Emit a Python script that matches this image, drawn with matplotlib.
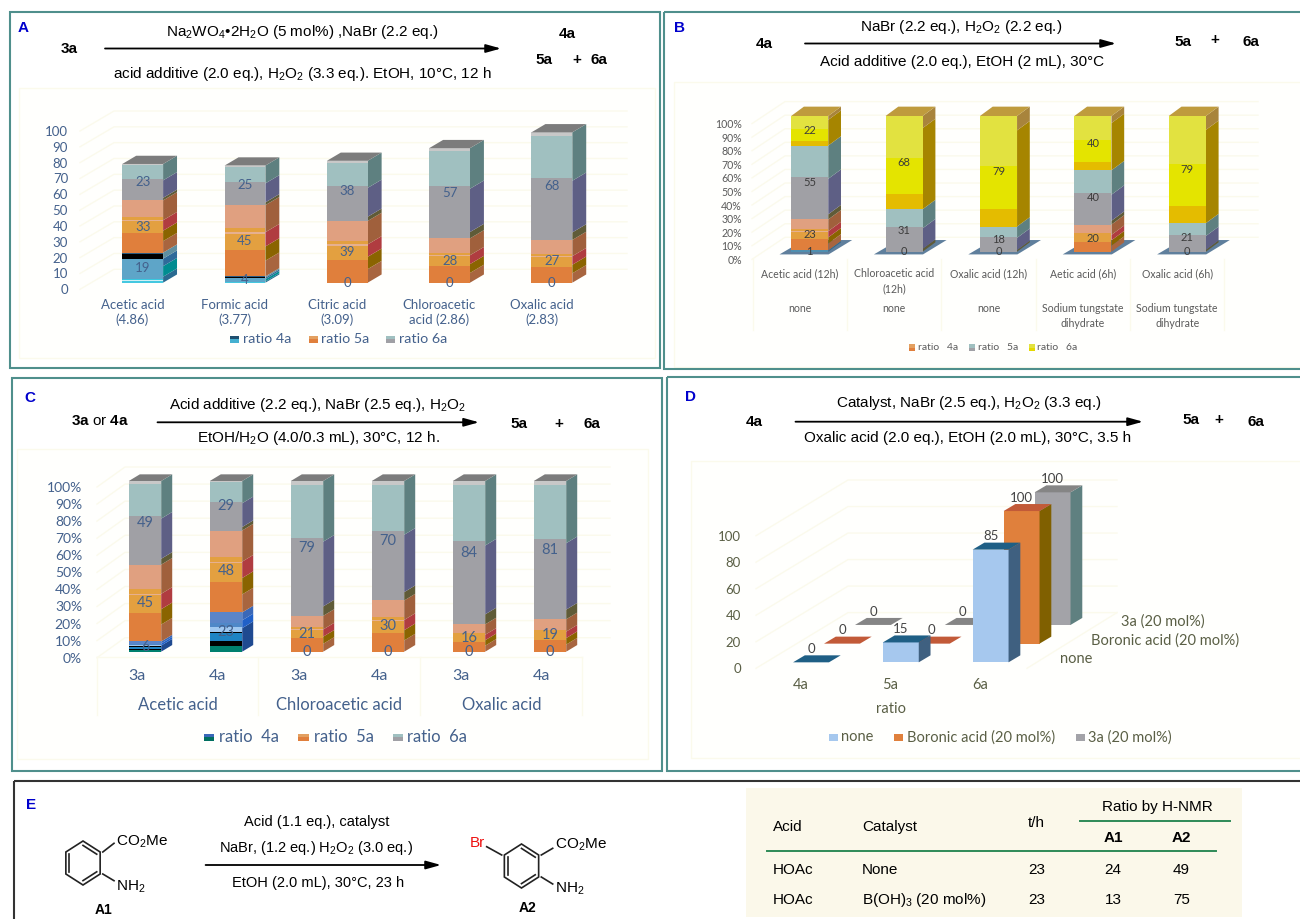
import matplotlib
matplotlib.use("Agg")
import matplotlib.pyplot as plt
from matplotlib.patches import Rectangle
import numpy as np

plt.rcParams['font.family'] = ['Lato', 'DejaVu Sans']
plt.rcParams['mathtext.fontset'] = 'custom'
plt.rcParams['mathtext.rm'] = 'Liberation Sans'
plt.rcParams['mathtext.bf'] = 'Liberation Sans:bold'
plt.rcParams['mathtext.default'] = 'rm'

W, H = 1300, 919

# === Panel A values ===
a_names = ["Acetic acid\n(4.86)", "Formic acid\n(3.77)", "Citric acid\n(3.09)",
           "Chloroacetic\nacid (2.86)", "Oxalic acid\n(2.83)"]
a_4a = [19, 4, 0, 0, 0]
a_5a = [33, 45, 39, 28, 27]
a_6a = [23, 25, 38, 57, 68]
a_ticks = [0, 10, 20, 30, 40, 50, 60, 70, 80, 90, 100]

# === Panel B values ===
b_names = ["Acetic acid (12h)", "Chloroacetic acid\n(12h)", "Oxalic acid (12h)",
           "Aetic acid (6h)", "Oxalic acid (6h)"]
b_catalyst = ["none", "none", "none", "Sodium tungstate\ndihydrate", "Sodium tungstate\ndihydrate"]
b_other = [1, 0, 0, 0, 0]
b_4a = [23, 0, 0, 20, 0]
b_5a = [55, 31, 18, 40, 21]
b_6a = [22, 68, 79, 40, 79]
pct_ticks = [0, 10, 20, 30, 40, 50, 60, 70, 80, 90, 100]

# === Panel C values ===
c_names = ["3a", "4a", "3a", "4a", "3a", "4a"]
c_groups = ["Acetic acid", "Chloroacetic acid", "Oxalic acid"]
c_4a = [6, 23, 0, 0, 0, 0]
c_5a = [45, 48, 21, 30, 16, 19]
c_6a = [49, 29, 79, 70, 84, 81]

# === Panel D values ===
d_names = ["4a", "5a", "6a"]
d_rows = ["none", "Boronic acid (20 mol%)", "3a (20 mol%)"]
d_none = [0, 15, 85]
d_boronic = [0, 0, 100]
d_3a = [0, 0, 100]
d_ticks = [0, 20, 40, 60, 80, 100]

# === Panel E table ===
e_acid = ["HOAc", "HOAc"]
e_catalyst = ["None", "B(OH)$_3$ (20 mol%)"]
e_time = [23, 23]
e_a1 = [24, 13]
e_a2 = [49, 75]

# === Colour bands of the glossy bars (fraction of the segment, colour) ===
FRONT_5A = [(0, .37, '#E07F3C'), (.37, .60, '#E3A040'), (.60, .62, '#E6B090'),
            (.62, .68, '#E3A040'), (.68, 1, '#E0A080')]
SIDE_5A = [(0, .22, '#A8653F'), (.22, .42, '#8A6400'), (.42, .62, '#B03C40'), (.62, 1, '#A0603C')]
FRONT_6A = [(0, .58, '#A0A0A5'), (.58, .97, '#A0C0C0'), (.97, 1, '#C8C8C8')]
SIDE_6A = [(0, .07, '#5F5B38'), (.07, .55, '#5E5F85'), (.55, 1, '#5E8080')]
FRONT_TEAL = [(0, .58, '#A0A0A5'), (.58, 1, '#A0C0C0')]
FRONT_YEL = [(0, .16, '#E4BC00'), (.16, .55, '#E4E400'), (.55, 1, '#E2E240')]
SIDE_YEL = [(0, .87, '#A68500'), (.87, 1, '#A8843C')]
FRONT_4A = [(0, .06, '#45C8E0'), (.06, .09, '#D0F0F5'), (.09, .13, '#38C8E0'),
            (.13, .8, '#5EA5C8'), (.8, .94, '#000000'), (.94, 1, '#2A5A80')]
SIDE_4A = [(0, .2, '#2A6A90'), (.2, .55, '#008C90'), (.55, .8, '#2F6A9A'), (.8, 1, '#5F8FA0')]
FRONT_C4A = [(0, .15, '#00806F'), (.15, .28, '#000000'), (.28, .47, '#1E84C4'), (.47, .51, '#000000'),
             (.51, .62, '#A0C8F0'), (.62, .72, '#4F88C8'), (.72, 1, '#5B85C8')]
SIDE_C4A = [(0, .6, '#1F4A90'), (.6, .8, '#2060C8'), (.8, 1, '#3A68B8')]
FRONT_OTHER = [(0, 1, '#4F8FB0')]
SIDE_OTHER = [(0, 1, '#2F6A90')]

BLUE_TXT = '#44618C'
TEAL = '#4F8F8C'
FAINT = '#FBFAEC'

fig = plt.figure(figsize=(13, 9.19), dpi=100)

# canvas in pixels for frames, schemes and legends
canvas = fig.add_axes([0, 0, 1, 1])
canvas.set_xlim(0, W)
canvas.set_ylim(H, 0)
canvas.axis('off')


def box(x0, y0, x1, y1, edge, face='none', lw=1.5):
    canvas.add_patch(Rectangle((x0, y0), x1 - x0, y1 - y0, fc=face, ec=edge, lw=lw))


def arial(x, y, s, size=11, ha='center', **kw):
    canvas.text(x, y, s, fontsize=size, ha=ha, va='center', family=['Liberation Sans', 'DejaVu Sans'], **kw)


def arrow(x0, x1, y, lw=1.3):
    canvas.annotate('', xy=(x1, y), xytext=(x0, y),
                    arrowprops=dict(arrowstyle='-|>,head_length=0.9,head_width=0.25', color='black', lw=lw,
                                    shrinkA=0, shrinkB=0))


def swatch(x0, x1, y, top, bottom):
    canvas.add_patch(Rectangle((x0, y - 3.5), x1 - x0, 3.5, fc=top, lw=0))
    canvas.add_patch(Rectangle((x0, y), x1 - x0, 3.5, fc=bottom, lw=0))


def chart_axes(x_left, x_right, y_top, y_bottom, x0, slot, y0, per_unit):
    # axes whose data scale gives bar slots along x and values along y
    ax = fig.add_axes([x_left / W, 1 - y_bottom / H, (x_right - x_left) / W, (y_bottom - y_top) / H])
    ax.set_xlim((x_left - x0) / slot, (x_right - x0) / slot)
    ax.set_ylim((y0 - y_bottom) / per_unit, (y0 - y_top) / per_unit)
    ax.patch.set_alpha(0)
    for s in ax.spines.values():
        s.set_visible(False)
    ax.tick_params(length=0)
    return ax


def walls(ax, ticks, shift, x_front, x_back, x_end, rise):
    for v in ticks:
        y = v + shift
        ax.plot([x_front, x_back, x_end], [y, y + rise, y + rise], color=FAINT, lw=1, zorder=0)


def segment(ax, x, bottom, h, width, dx, dy, front, side):
    for lo, hi, col in front:
        ax.bar(x, h * (hi - lo), bottom=bottom + h * lo, width=width, color=col, lw=0, zorder=3)
    r = x + width / 2
    for lo, hi, col in side:
        y0, y1 = bottom + h * lo, bottom + h * hi
        ax.fill([r, r + dx, r + dx, r], [y0, y0 + dy, y1 + dy, y1], color=col, lw=0, zorder=2)


def stacked(ax, series, width, dx, dy, top_col, label_col, fs, norm=False):
    # series: list of (values, front bands, side bands, show label)
    n = len(series[0][0])
    for i in range(n):
        total = sum(s[0][i] for s in series) if norm else 100
        bottom = 0
        for vals, front, side, show in series:
            h = vals[i] * 100 / total
            if h > 0:
                segment(ax, i, bottom, h, width, dx, dy, front, side)
            if show:
                ax.text(i, bottom + h / 2, str(vals[i]), ha='center', va='center',
                        color=label_col, fontsize=fs, zorder=5)
            bottom += h
        l, r = i - width / 2, i + width / 2
        ax.fill([l, r, r + dx, l + dx], [bottom, bottom, bottom + dy, bottom + dy],
                color=top_col, lw=0, zorder=3)


# === Panel frames ===
box(19, 88, 655, 358, FAINT, '#FFFFFD', 1)
box(674, 82, 1310, 367, FAINT, '#FFFFFD', 1)
box(17, 449, 648, 759, FAINT, '#FFFFFD', 1)
box(691, 461, 1310, 758, FAINT, '#FFFFFD', 1)
box(9.5, 12, 660, 368, TEAL)
box(664, 12, 1310, 369, TEAL)
box(11.5, 378, 662, 771, TEAL)
box(667, 377, 1310, 771, TEAL)
box(14, 781, 1310, 930, '#333333')

# === Panel A ===
ax = chart_axes(68, 655, 100, 296, 142.7, 102.3, 282.7, 1.583)
shift = -(289.3 - 282.7) / 1.583
walls(ax, a_ticks, shift, (80 - 142.7) / 102.3, (114 - 142.7) / 102.3, (627 - 142.7) / 102.3, 20 / 1.583)
stacked(ax, [(a_4a, FRONT_4A, SIDE_4A, True), (a_5a, FRONT_5A, SIDE_5A, True), (a_6a, FRONT_6A, SIDE_6A, True)],
        0.399, 0.136, 5.2, '#7C7C7C', BLUE_TXT, 9.5)
ax.set_yticks([v + shift for v in a_ticks], [str(v) for v in a_ticks], color=BLUE_TXT, fontsize=9.5)
ax.set_xticks([i - 0.1 for i in range(5)], a_names, color=BLUE_TXT, fontsize=9.5, linespacing=1.25)
ax.tick_params(axis='y', pad=0)
ax.tick_params(axis='x', pad=2)

arial(23, 28, 'A', 11, color='#0000CC', fontweight='bold')
arial(69.5, 49, '3a', 11, fontweight='bold')
arrow(105, 501, 48.5)
arial(302, 32, 'Na$_2$WO$_4$•2H$_2$O (5 mol%) ,NaBr (2.2 eq.)')
arial(302, 74, 'acid additive (2.0 eq.), H$_2$O$_2$ (3.3 eq.). EtOH, 10°C, 12 h')
arial(567, 34, '4a', 11, fontweight='bold')
arial(544, 60, '5a', 11, fontweight='bold')
arial(577, 60, '+', 11, fontweight='bold')
arial(598.5, 60, '6a', 11, fontweight='bold')
for xs, xt, label, top, bottom in [(230, 243, 'ratio 4a', '#1F4F6F', '#45B0D0'),
                                   (308.5, 321, 'ratio 5a', '#E3A060', '#E07F3C'),
                                   (386, 398.6, 'ratio 6a', '#A0C0C0', '#A0A0A5')]:
    swatch(xs, xs + 9, 339, top, bottom)
    canvas.text(xt, 339, label, color=BLUE_TXT, fontsize=10.3, va='center')

# === Panel B ===
ax = chart_axes(742, 1300, 95, 262, 809.7, 94.4, 251.7, 1.357)
shift = -(259.3 - 251.7) / 1.357
walls(ax, pct_ticks, shift, (752 - 809.7) / 94.4, (785 - 809.7) / 94.4, (1258 - 809.7) / 94.4, 22 / 1.357)
for i in range(5):
    ax.fill([i - 0.32, i + 0.2, i + 0.45, i - 0.06], [-2, -2, 8.6, 8.6], color='#5F7F9C', lw=0, zorder=1)
stacked(ax, [(b_other, FRONT_OTHER, SIDE_OTHER, False), (b_4a, FRONT_5A, SIDE_5A, True),
             (b_5a, FRONT_TEAL, SIDE_6A, True), (b_6a, FRONT_YEL, SIDE_YEL, True)],
        0.393, 0.135, 6.9, '#BF9B3D', '#3C3C3C', 8, norm=True)
ax.text(0, 0.5, str(b_other[0]), ha='center', va='center', color='#3C3C3C', fontsize=8, zorder=5)
ax.set_yticks([v + shift for v in pct_ticks], [f'{v}%' for v in pct_ticks], color='#5A5A5A', fontsize=7.6)
ax.tick_params(axis='y', pad=0)
ax.set_xticks([])
for i in range(5):
    xc = i - 0.107
    ax.text(xc, (251.7 - 268) / 1.357, b_names[i], ha='center', va='top', color='#5A5A5A', fontsize=7.6,
            linespacing=1.45, clip_on=False)
    ax.text(xc, (251.7 - 303) / 1.357, b_catalyst[i], ha='center', va='top', color='#5A5A5A', fontsize=7.6,
            linespacing=1.45, clip_on=False)
for x in [753, 847, 941, 1036, 1130, 1224]:
    canvas.plot([x, x], [259, 330], color=FAINT, lw=1)

arial(679.5, 27.5, 'B', 11, color='#0000CC', fontweight='bold')
arial(764, 43.5, '4a', 11, fontweight='bold')
arrow(805, 1116, 43.5)
arial(961, 26.7, 'NaBr (2.2 eq.), H$_2$O$_2$ (2.2 eq.)')
arial(962, 62, 'Acid additive (2.0 eq.), EtOH (2 mL), 30°C')
arial(1183, 41.7, '5a', 11, fontweight='bold')
arial(1214.7, 40, '+', 11, fontweight='bold')
arial(1250.6, 41.7, '6a', 11, fontweight='bold')
for xs, xt, label, top, bottom in [(909, 917.6, 'ratio   4a', '#E3A060', '#E07F3C'),
                                   (969, 977.6, 'ratio   5a', '#A0C0C0', '#A0A0A5'),
                                   (1028.6, 1036.7, 'ratio   6a', '#E2E240', '#E4D800')]:
    swatch(xs, xs + 6, 347.7, top, bottom)
    canvas.text(xt, 347.7, label, color='#5A5A5A', fontsize=7.5, va='center')

# === Panel C ===
ax = chart_axes(82, 648, 460, 668, 145, 81, 651.7, 1.707)
shift = -(657.7 - 651.7) / 1.707
walls(ax, pct_ticks, shift, (97 - 145) / 81, (125 - 145) / 81, (610 - 145) / 81, 20 / 1.707)
stacked(ax, [(c_4a, FRONT_C4A, SIDE_C4A, True), (c_5a, FRONT_5A, SIDE_5A, True), (c_6a, FRONT_6A, SIDE_6A, True)],
        0.4, 0.136, 3.9, '#7C7C7C', BLUE_TXT, 10.5)
ax.set_yticks([v + shift for v in pct_ticks], [f'{v}%' for v in pct_ticks], color=BLUE_TXT, fontsize=10)
ax.set_xticks([i - 0.1 for i in range(6)], c_names, color=BLUE_TXT, fontsize=11.5)
ax.tick_params(axis='y', pad=0)
ax.tick_params(axis='x', pad=1)
for xc, name in zip([0.4, 2.4, 4.4], c_groups):
    ax.text(xc, (651.7 - 705) / 1.707, name, ha='center', va='center', color=BLUE_TXT, fontsize=12, clip_on=False)
for x in [97, 258, 419.5, 581.5]:
    canvas.plot([x, x], [657, 715], color=FAINT, lw=1)
canvas.plot([97, 581.5], [657, 657], color=FAINT, lw=1)

arial(30.3, 398.3, 'C', 11, color='#0000CC', fontweight='bold')
arial(100, 420.7, r'$\mathbf{3a}$ or $\mathbf{4a}$', 11)
arrow(157.5, 479, 422.3)
arial(318, 405, 'Acid additive (2.2 eq.), NaBr (2.5 eq.), H$_2$O$_2$')
arial(318, 438.3, 'EtOH/H$_2$O (4.0/0.3 mL), 30°C, 12 h.')
arial(519.4, 423.7, '5a', 11, fontweight='bold')
arial(558.5, 423.7, '+', 11, fontweight='bold')
arial(592, 423.7, '6a', 11, fontweight='bold')
for xs, xt, label, top, bottom in [(203.5, 219, 'ratio  4a', '#3A68B8', '#006F60'),
                                   (298, 313.6, 'ratio  5a', '#E3A060', '#E07F3C'),
                                   (392.7, 407.4, 'ratio  6a', '#A0C0C0', '#A0A0A5')]:
    swatch(xs, xs + 10.5, 737.3, top, bottom)
    canvas.text(xt, 737.3, label, color=BLUE_TXT, fontsize=12, va='center')

# === Panel D ===
D_SLOT, D_W, D_DX, D_DY = 89.8, 0.4, 0.131, 7 / 1.326
ax = chart_axes(741, 1300, 470, 678, 811, D_SLOT, 668.3, 1.326)
fx = lambda px: (px - 811) / D_SLOT
for v in d_ticks:
    ax.plot([fx(756), fx(848), fx(1117)], [v, v + 42, v + 42], color=FAINT, lw=1, zorder=0)
ax.plot([fx(1117), fx(1027)], [42, 0], color=FAINT, lw=1, zorder=0)
d_series = [(d_3a, 0.69, 32.7, '#A3A3A8', '#5F8080', '#858585'),
            (d_boronic, 0.345, 18.6, '#E0803C', '#806000', '#C25A38'),
            (d_none, 0.0, 4.5, '#A6C8EE', '#3F6080', '#1F5F85')]
for vals, xoff, base, front, side, top in d_series:
    for i, v in enumerate(vals):
        x = i + xoff
        l, r = x - D_W / 2, x + D_W / 2
        if v > 0:
            ax.bar(x, v, bottom=base, width=D_W, color=front, lw=0, zorder=3)
            ax.fill([r, r + D_DX, r + D_DX, r], [base, base + D_DY, base + v + D_DY, base + v],
                    color=side, lw=0, zorder=3)
        ax.fill([l, r, r + D_DX, l + D_DX], [base + v, base + v, base + v + D_DY, base + v + D_DY],
                color=top, lw=0, zorder=3)
        ax.text(x, base + v + 10, str(v), ha='center', va='center', color='#444444', fontsize=9.5, zorder=5)
ax.set_yticks(d_ticks, [str(v) for v in d_ticks], color='#5A5F45', fontsize=9.5)
ax.set_xticks([i - 0.118 for i in range(3)], d_names, color='#5A5F45', fontsize=10.5)
ax.tick_params(axis='y', pad=0)
ax.tick_params(axis='x', pad=0)
for xt, yt, name in zip([1060, 1090.6, 1121.2], [659.3, 640.7, 622], d_rows):
    canvas.text(xt, yt, name, color='#5A5F45', fontsize=10.5, va='center')
canvas.text(890.6, 708.7, 'ratio', color='#5A5F45', fontsize=10.5, ha='center', va='center')

arial(691, 396.7, 'D', 11, color='#0000CC', fontweight='bold')
arial(754.3, 421.7, '4a', 11, fontweight='bold')
arrow(795.5, 1143, 421.7)
arial(969, 403.3, 'Catalyst, NaBr (2.5 eq.), H$_2$O$_2$ (3.3 eq.)')
arial(968, 438.3, 'Oxalic acid (2.0 eq.), EtOH (2.0 mL), 30°C, 3.5 h')
arial(1190.6, 420, '5a', 11, fontweight='bold')
arial(1218.8, 420, '+', 11, fontweight='bold')
arial(1255.5, 421.7, '6a', 11, fontweight='bold')
for xs, xt, label, col in [(828.6, 840.8, d_rows[0], '#A6C8EE'), (894.3, 907.3, d_rows[1], '#E0803C'),
                           (1075.5, 1088.2, d_rows[2], '#A3A3A8')]:
    swatch(xs, xs + 9, 737.3, col, col)
    canvas.text(xt, 737.3, label, color='#5A5F45', fontsize=10.5, va='center')


# === Panel E scheme ===
def ring(cx, cy, r=22):
    ang = np.radians(np.arange(6) * 60 + 90)
    xs, ys = cx + r * 0.9 * np.cos(ang), cy - r * np.sin(ang)
    canvas.fill(xs, ys, fc='none', ec='#222222', lw=1.2)
    for k in [1, 3, 5]:
        a, b = k, (k + 1) % 6
        canvas.plot([cx + (xs[a] - cx) * 0.8, cx + (xs[b] - cx) * 0.8],
                    [cy + (ys[a] - cy) * 0.8, cy + (ys[b] - cy) * 0.8], color='#222222', lw=1.2)


arial(30.7, 805, 'E', 11, color='#0000CC', fontweight='bold')
ring(83, 863)
canvas.plot([102.8, 114], [852, 843.3], color='#222222', lw=1.2)
canvas.plot([102.8, 114], [874, 880.7], color='#222222', lw=1.2)
arial(116.5, 841.7, 'CO$_2$Me', 11, ha='left')
arial(116.5, 886.7, 'NH$_2$', 11, ha='left')
arial(104, 910, 'A1', 10, fontweight='bold')
arial(316.8, 822, 'Acid (1.1 eq.), catalyst', 10.5)
arial(316, 847.7, 'NaBr, (1.2 eq.) H$_2$O$_2$ (3.0 eq.)', 10.5)
arrow(205.6, 441, 865)
arial(317.6, 883.3, 'EtOH (2.0 mL), 30°C, 23 h', 10.5)
ring(521.5, 866)
canvas.plot([501.7, 486.7], [855, 846.7], color='#222222', lw=1.2)
canvas.plot([541.3, 552.7], [855, 848.3], color='#222222', lw=1.2)
canvas.plot([541.3, 552.7], [877, 884], color='#222222', lw=1.2)
arial(485, 843.3, 'Br', 11, ha='right', color='#EE1111')
arial(555, 845, 'CO$_2$Me', 11, ha='left')
arial(555, 889, 'NH$_2$', 11, ha='left')
arial(527.5, 908.5, 'A2', 10, fontweight='bold')

# === Panel E table ===
canvas.add_patch(Rectangle((746, 788), 496, 129, fc='#FBF8EA', lw=0))
canvas.plot([1080, 1230], [820.7, 820.7], color='#2E8B57', lw=1.4)
canvas.plot([767, 1216], [851.3, 851.3], color='#2E8B57', lw=1.4)
arial(773, 826.7, 'Acid', 11, ha='left')
arial(862, 826.7, 'Catalyst', 11, ha='left')
arial(1036.5, 823, 't/h', 11)
arial(1157, 807, 'Ratio by H-NMR', 11)
arial(1113, 838, 'A1', 11, fontweight='bold')
arial(1181.6, 838, 'A2', 11, fontweight='bold')
for y, acid, cat, t, a1, a2 in zip([870, 900], e_acid, e_catalyst, e_time, e_a1, e_a2):
    arial(773, y, acid, 11, ha='left')
    arial(862, y, cat, 11, ha='left')
    arial(1036.5, y, str(t), 11)
    arial(1113, y, str(a1), 11)
    arial(1181.6, y, str(a2), 11)

fig.savefig("out.png", dpi=100)
